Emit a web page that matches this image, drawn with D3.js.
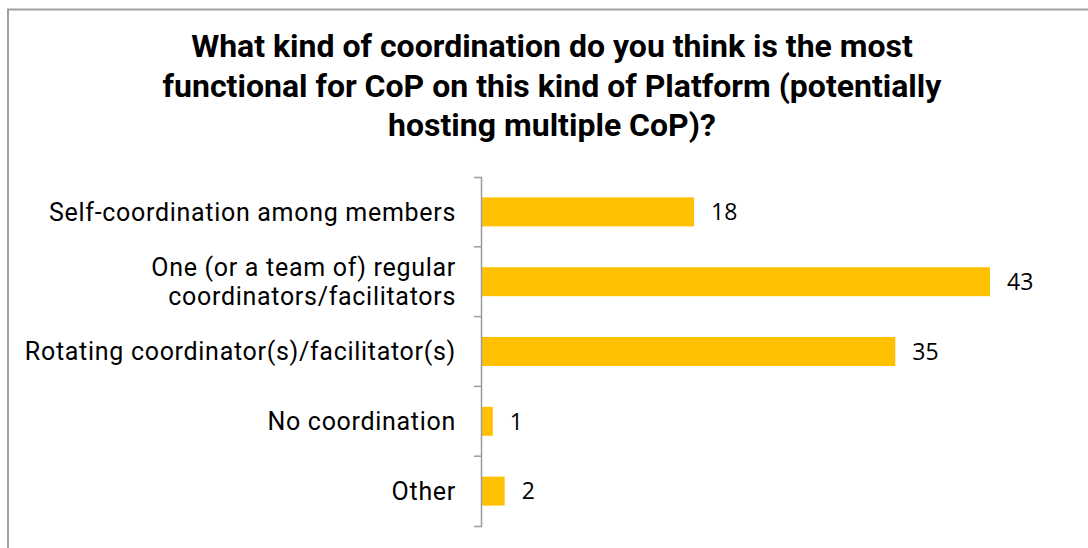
<!DOCTYPE html>
<html>
<head>
<meta charset="utf-8">
<script src="https://cdn.jsdelivr.net/npm/d3@7/dist/d3.min.js"></script>
<style>
  html, body { margin: 0; padding: 0; background: #fff; }
  svg { display: block; }
</style>
</head>
<body>
<svg id="chart" width="1088" height="548"></svg>
<script>
const titleLines = [
  "What kind of coordination do you think is the most",
  "functional for CoP on this kind of Platform (potentially",
  "hosting multiple CoP)?"
];
const categories = [
  "Self-coordination among members",
  "One (or a team of) regular\ncoordinators/facilitators",
  "Rotating coordinator(s)/facilitator(s)",
  "No coordination",
  "Other"
];
const counts = [18, 43, 35, 1, 2];

const svg = d3.select("#chart");
const W = 1088, H = 548;

// frame around the chart area
svg.append("rect")
  .attr("x", 8).attr("y", 9.5)
  .attr("width", W + 10).attr("height", H + 10)
  .attr("fill", "#fff")
  .attr("stroke", "#a0a0a0")
  .attr("stroke-width", 2);

// title
const title = svg.append("text")
  .attr("text-anchor", "middle")
  .attr("font-family", "Roboto, sans-serif")
  .attr("font-weight", "bold")
  .attr("font-size", 32)
  .attr("fill", "#000");
titleLines.forEach((t, i) => {
  title.append("tspan").attr("x", 552).attr("y", 57 + i * 39.5).text(t);
});

const x0 = 481;
const x = d3.scaleLinear().domain([0, 43]).range([x0, 990]);
const y = d3.scaleBand()
  .domain(categories)
  .range([177, 526])
  .paddingInner(0.585)
  .paddingOuter(0.2925);

// bars
svg.append("g").selectAll("rect")
  .data(categories)
  .join("rect")
  .attr("x", x(0))
  .attr("y", d => y(d))
  .attr("width", (d, i) => x(counts[i]) - x(0))
  .attr("height", y.bandwidth())
  .attr("fill", "#FFC000");

// value labels
svg.append("g").selectAll("text")
  .data(categories)
  .join("text")
  .attr("x", (d, i) => x(counts[i]) + 17)
  .attr("y", d => y(d) + y.bandwidth() / 2)
  .attr("dy", "0.36em")
  .attr("font-family", "'Open Sans', sans-serif")
  .attr("font-size", 23)
  .attr("fill", "#000")
  .text((d, i) => counts[i]);

// vertical category axis
const axis = svg.append("g")
  .attr("transform", `translate(${x0},0)`)
  .call(d3.axisLeft(y).tickSize(0).tickSizeOuter(7).tickFormat(""));
axis.select(".domain").attr("stroke", "#9c9c9c").attr("stroke-width", 1.5);

// tick marks on category boundaries
const step = y.step();
const boundaries = d3.range(categories.length + 1).map(i => y.range()[0] + i * step);
axis.selectAll(".boundary")
  .data(boundaries.slice(1, -1))
  .join("line")
  .attr("class", "boundary")
  .attr("x1", -7).attr("x2", 0)
  .attr("y1", d => d).attr("y2", d => d)
  .attr("stroke", "#9c9c9c").attr("stroke-width", 1.5);

// category labels
const labels = svg.append("g").selectAll("text")
  .data(categories)
  .join("text")
  .attr("text-anchor", "end")
  .attr("font-family", "Roboto, sans-serif")
  .attr("font-size", 25)
  .attr("letter-spacing", 0.7)
  .attr("fill", "#000");
labels.each(function(d) {
  const lines = d.split("\n");
  const cy = y(d) + y.bandwidth() / 2;
  const lh = 29;
  const first = cy - (lines.length - 1) * lh / 2;
  const t = d3.select(this);
  lines.forEach((ln, i) => {
    t.append("tspan")
      .attr("x", 456)
      .attr("y", first + i * lh)
      .attr("dy", "0.35em")
      .text(ln);
  });
});
</script>
</body>
</html>
